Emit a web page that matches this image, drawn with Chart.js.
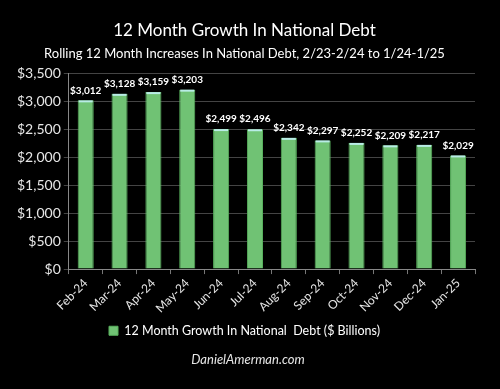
<!DOCTYPE html>
<html>
<head>
<meta charset="utf-8">
<script src="https://cdn.jsdelivr.net/npm/chart.js@4/dist/chart.umd.min.js"></script>
<style>
  html, body { margin: 0; padding: 0; background: #000; }
  #wrap { position: relative; width: 500px; height: 389px; background: #000; }
  #footer {
    position: absolute; left: 0; width: 496px; top: 351px; text-align: center;
    font-family: Lato, sans-serif; font-style: italic; font-size: 13px; color: #e6e6e6;
  }
</style>
</head>
<body>
<div id="wrap">
  <canvas id="myChart" width="500" height="389"></canvas>
  <div id="footer">DanielAmerman.com</div>
</div>
<script>
'use strict'
// months shown along the bottom
let months = ['Feb-24', 'Mar-24', 'Apr-24', 'May-24', 'Jun-24', 'Jul-24',
  'Aug-24', 'Sep-24', 'Oct-24', 'Nov-24', 'Dec-24', 'Jan-25'];
// 12 month growth, $ billions
let growth = [3012, 3128, 3159, 3203, 2499, 2496, 2342, 2297, 2252, 2209, 2217, 2029];
let seriesName = '12 Month Growth In National  Debt ($ Billions)';
let titleText = '12 Month Growth In National Debt';
let subtitleText = 'Rolling 12 Month Increases In National Debt, 2/23-2/24 to 1/24-1/25';

function money(v) {
    return '$' + v.toLocaleString('en-US');
}

// value on top of each bar + the little light strip at the top
const barLabels = {
    id: 'barLabels',
    afterDatasetsDraw(chart) {
        let ctx = chart.ctx;
        let meta = chart.getDatasetMeta(0);
        ctx.save();
        meta.data.forEach(function (bar, i) {
            ctx.fillStyle = '#b9ece6';
            ctx.fillRect(bar.x - bar.width / 2 + 1, bar.y, bar.width - 2, 2);
            ctx.fillStyle = '#ffffff';
            ctx.font = 'bold 10px Lato, sans-serif';
            ctx.textAlign = 'center';
            ctx.textBaseline = 'bottom';
            ctx.fillText(money(growth[i]), bar.x, bar.y - 5);
        });
        ctx.restore();
    }
};

var ctx = document.getElementById('myChart');
var barChart = new Chart(ctx, {
    type: 'bar',
    data: {
        labels: months,
        datasets: [{
            label: seriesName,
            data: growth,
            backgroundColor: '#70c274',
            borderColor: '#58b05d',
            borderWidth: 1,
            barPercentage: 0.5,
            categoryPercentage: 0.95
        }]
    },
    options: {
        responsive: false,
        animation: false,
        layout: { padding: { left: 14, right: 25, top: 8, bottom: 42 } },
        plugins: {
            title: {
                display: true,
                text: titleText,
                color: '#ffffff',
                font: { family: 'Lato', size: 17, weight: 'normal' },
                padding: { top: 12, bottom: 6 }
            },
            subtitle: {
                display: true,
                text: subtitleText,
                color: '#ffffff',
                font: { family: 'Lato', size: 13, weight: 'normal' },
                padding: { bottom: 11 }
            },
            legend: {
                position: 'bottom',
                labels: {
                    color: '#ffffff',
                    boxWidth: 9,
                    boxHeight: 9,
                    font: { family: 'Lato', size: 12.5 },
                    padding: 7
                }
            },
            tooltip: { enabled: false }
        },
        scales: {
            x: {
                grid: { drawOnChartArea: false, color: '#777', tickLength: 5, offset: true },
                border: { color: '#888' },
                ticks: {
                    color: '#e6e6e6',
                    font: { family: 'Lato', size: 12 },
                    minRotation: 45,
                    maxRotation: 45,
                    padding: 2
                }
            },
            y: {
                min: 0,
                max: 3500,
                grid: { color: '#444', tickLength: 5 },
                border: { color: '#888' },
                ticks: {
                    stepSize: 500,
                    color: '#e6e6e6',
                    font: { family: 'Lato', size: 14 },
                    padding: 3,
                    callback: function (v) { return money(v); }
                }
            }
        }
    },
    plugins: [barLabels]
});
</script>
</body>
</html>
